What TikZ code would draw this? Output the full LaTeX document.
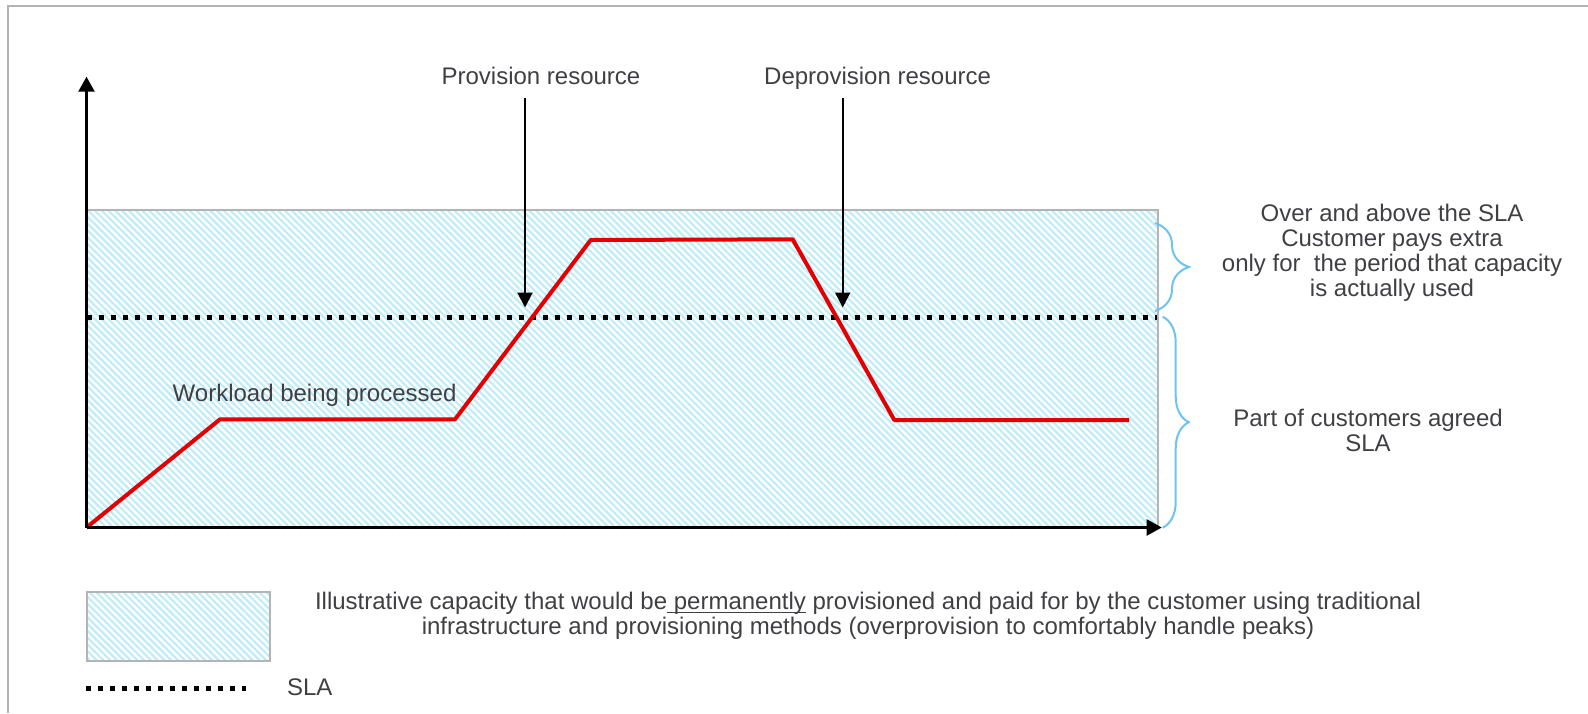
\documentclass[tikz,border=0pt]{standalone}
\usepackage{fontspec}
\setmainfont{Liberation Sans}
\usetikzlibrary{arrows.meta,patterns.meta,decorations.pathreplacing}
\definecolor{labelgray}{RGB}{64,64,68}
\definecolor{workred}{RGB}{228,0,0}
\definecolor{bracecyan}{RGB}{110,195,245}
\definecolor{hatchcyan}{RGB}{190,236,250}
\definecolor{framegray}{RGB}{180,180,180}

\begin{document}
\begin{tikzpicture}[x=0.5pt,y=-0.5pt]
  \tikzset{LabelStyle/.style = {
    text          = labelgray,
    font          = \fontsize{12}{12.5}\selectfont,
    align         = center,
    inner sep     = 0pt,
    outer sep     = 0pt
    }
  }
  \tikzset{LegendStyle/.style = {
    text          = labelgray,
    font          = \fontsize{12}{12.5}\selectfont,
    align         = center,
    inner sep     = 0pt,
    outer sep     = 0pt
    }
  }
  \tikzset{CapacityStyle/.style = {
    draw          = framegray,
    line width    = 0.8pt,
    pattern       = {Lines[angle=-45, distance=2.4pt, line width=1.1pt]},
    pattern color = hatchcyan
    }
  }
  \tikzset{SlaStyle/.style = {
    draw          = black,
    line width    = 2.5pt,
    dash pattern  = on 2.5pt off 3.5pt
    }
  }
  \tikzset{WorkStyle/.style = {
    draw          = workred,
    line width    = 2pt,
    line join     = round
    }
  }
  \tikzset{AxisStyle/.style = {
    draw          = black,
    line width    = 1.2pt,
    -{Triangle[length=7.5pt, width=8pt]}
    }
  }
  \tikzset{ArrowStyle/.style = {
    draw          = black,
    line width    = 1pt,
    -{Triangle[length=7.5pt, width=7.5pt]}
    }
  }
  \tikzset{BraceStyle/.style = {
    draw          = bracecyan,
    line width    = 1pt,
    decorate,
    decoration    = {brace, amplitude=#1}
    }
  }

  \useasboundingbox (0,0) rectangle (1588,713);
  \draw[framegray, line width=1pt] (8,713) -- (8,6) -- (1588,6);

  % capacity area and axes
  \coordinate (O) at (86.5,527.5);
  \coordinate (YTip) at (86.5,76.7);
  \coordinate (XTip) at (1161.7,527.5);
  \node[CapacityStyle, anchor=north west, minimum width=535.25pt, minimum height=159.25pt, inner sep=0pt](Capacity) at (86.5,209) {};
  \draw[SlaStyle] (86.5,317) -- (1157,317);
  \draw[WorkStyle] (O) -- (220,419.3) -- (455,419.3) -- (590.7,240) -- (792.7,239.3) -- (894.3,420) -- (1129,420);
  \draw[AxisStyle] (O) -- (YTip);
  \draw[AxisStyle] (O) -- (XTip);

  % provision arrows
  \node[LabelStyle, anchor=base](ProvLabel) at (541,84) {Provision resource};
  \node[LabelStyle, anchor=base](DeprovLabel) at (877.6,84) {Deprovision resource};
  \coordinate (ProvTop) at (525,98);
  \coordinate (ProvTip) at (525,307.5);
  \coordinate (DeprovTop) at (842.7,98);
  \coordinate (DeprovTip) at (842.7,307.5);
  \draw[ArrowStyle] (ProvTop) -- (ProvTip);
  \draw[ArrowStyle] (DeprovTop) -- (DeprovTip);

  \node[LabelStyle, anchor=base west](WorkLabel) at (172.7,401) {Workload being processed};

  % braces
  \coordinate (OverTop) at (1155,223);
  \coordinate (OverBottom) at (1155,311);
  \coordinate (PartTop) at (1162.7,316.7);
  \coordinate (PartBottom) at (1162.7,527.7);
  \draw[BraceStyle=17pt] (OverTop) -- (OverBottom);
  \draw[BraceStyle=13pt] (PartTop) -- (PartBottom);
  \node[LabelStyle](OverLabel) at (1392,253) {Over and above the SLA\\Customer pays extra\\only for\ \ the period that capacity\\is actually used};
  \node[LabelStyle](PartLabel) at (1368,430) {Part of customers agreed\\SLA};

  % legend
  \node[CapacityStyle, anchor=north west, minimum width=91.5pt, minimum height=34.5pt, inner sep=0pt](LegendBox) at (86,591) {};
  \node[LegendStyle](LegendText) at (868,616) {Illustrative capacity that would be\underline{\smash{\ permanently}} provisioned and paid for by the customer using traditional\\infrastructure and provisioning methods (overprovision to comfortably handle peaks)};
  \coordinate (LegendSlaStart) at (86,688);
  \coordinate (LegendSlaEnd) at (246,688);
  \draw[SlaStyle] (LegendSlaStart) -- (LegendSlaEnd);
  \node[LegendStyle, anchor=base west](LegendSla) at (287,695) {SLA};
\end{tikzpicture}
\end{document}
